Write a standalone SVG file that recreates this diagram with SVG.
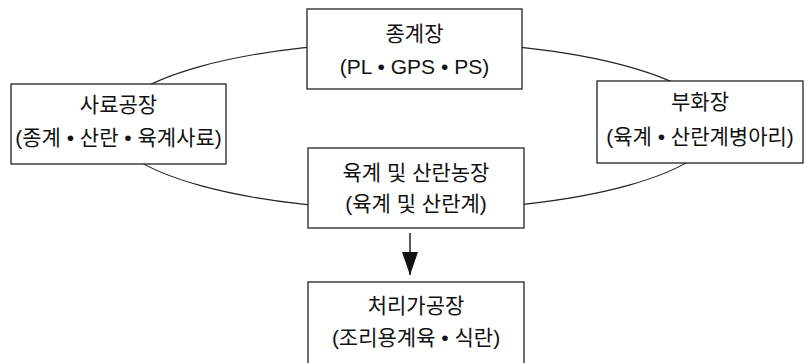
<svg xmlns="http://www.w3.org/2000/svg" width="808" height="363" viewBox="0 0 808 363">
<defs>
<style>
.box{fill:#fff;stroke:#222;stroke-width:1.3}
.t{font-family:"Liberation Sans","Noto Sans CJK KR",sans-serif;font-size:21px;fill:#111;text-anchor:middle}
.c{fill:none;stroke:#222;stroke-width:1.1}
</style>
<marker id="ah" viewBox="0 0 23 16" refX="23" refY="8" markerWidth="23" markerHeight="16" markerUnits="userSpaceOnUse" orient="auto">
<path d="M0,0 L23,8 L0,16 Z" fill="#111"/>
</marker>
</defs>
<rect width="808" height="363" fill="#fff"/>
<g id="connectors">
<ellipse class="c" cx="414" cy="126" rx="303" ry="84"/>
<line class="c" x1="410" y1="233" x2="410" y2="275" marker-end="url(#ah)" style="stroke-width:1.5"/>
</g>
<g id="node-jonggye">
<rect class="box" x="307" y="9" width="215" height="80"/>
<text class="t" x="414.5" y="41">종계장</text>
<text class="t" x="414.5" y="74">(PL • GPS • PS)</text>
</g>
<g id="node-saryo">
<rect class="box" x="11" y="84" width="215" height="80"/>
<text class="t" x="118.5" y="112">사료공장</text>
<text class="t" x="118.5" y="145">(종계 • 산란 • 육계사료)</text>
</g>
<g id="node-buhwa">
<rect class="box" x="597" y="81" width="206" height="82"/>
<text class="t" x="700" y="109">부화장</text>
<text class="t" x="700" y="144">(육계 • 산란계병아리)</text>
</g>
<g id="node-farm">
<rect class="box" x="308" y="148" width="216" height="80"/>
<text class="t" x="416" y="180">육계 및 산란농장</text>
<text class="t" x="416" y="211">(육계 및 산란계)</text>
</g>
<g id="node-process">
<rect class="box" x="308" y="282" width="216" height="90"/>
<text class="t" x="416" y="313">처리가공장</text>
<text class="t" x="416" y="345">(조리용계육 • 식란)</text>
</g>
</svg>
